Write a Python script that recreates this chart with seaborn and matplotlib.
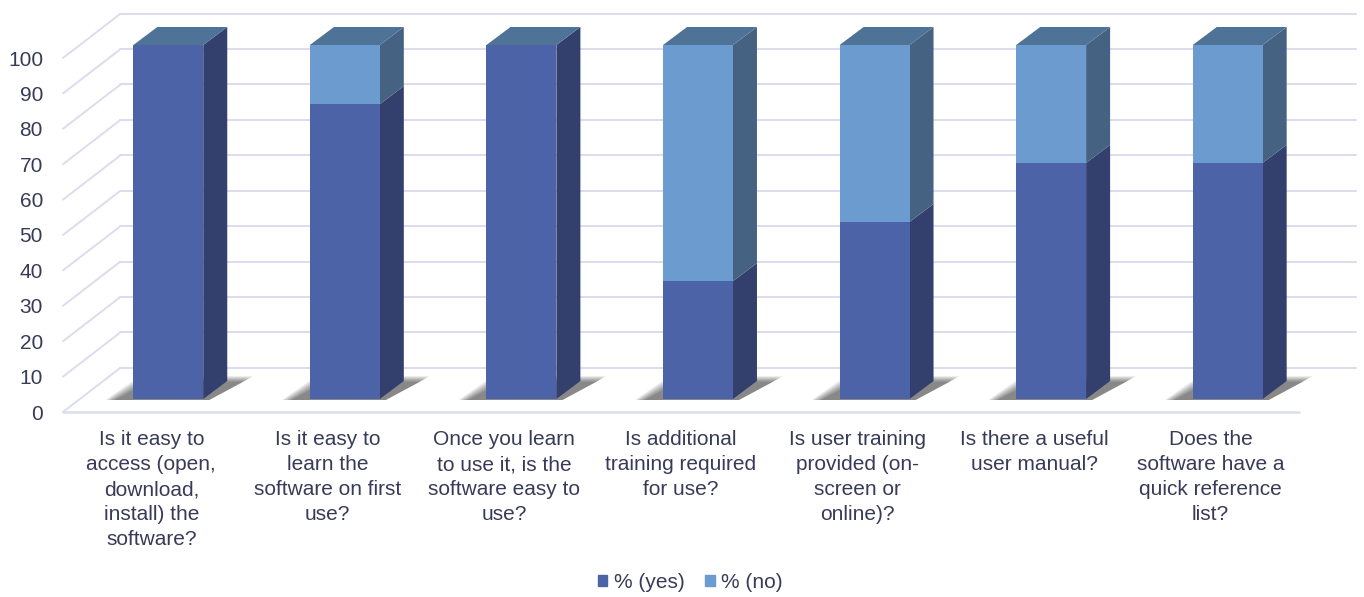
import matplotlib
matplotlib.use("Agg")
import matplotlib.pyplot as plt
import matplotlib.transforms as mtransforms
from matplotlib.patches import Polygon, Patch
import seaborn as sns
import pandas as pd

# survey questions (x categories)
questions = [
    "Is it easy to\naccess (open,\ndownload,\ninstall) the\nsoftware?",
    "Is it easy to\nlearn the\nsoftware on first\nuse?",
    "Once you learn\nto use it, is the\nsoftware easy to\nuse?",
    "Is additional\ntraining required\nfor use?",
    "Is user training\nprovided (on-\nscreen or\nonline)?",
    "Is there a useful\nuser manual?",
    "Does the\nsoftware have a\nquick reference\nlist?",
]
yes_pct = [100, 83.3, 100, 33.3, 50, 66.7, 66.7]
no_pct = [0, 16.7, 0, 66.7, 50, 33.3, 33.3]
y_ticks = list(range(0, 101, 10))
series_names = ["% (yes)", "% (no)"]

# colours
YES_FRONT = "#4d63a7"
YES_SIDE = "#333f6c"
NO_FRONT = "#6c9bcf"
NO_SIDE = "#456282"
TOP = "#4f7397"
GRID = "#dcdcee"
TEXT = "#383b58"

# pseudo-3d offsets in pixels (dx, dy)
DEPTH = (24, 18)       # bar depth
FRONT = (-17, -13)     # front floor edge relative to bar face
BACK = (40.5, 31.3)    # back wall relative to bar face

sns.set_theme(style="white")
plt.rcParams["font.family"] = ["Liberation Sans", "DejaVu Sans"]

df = pd.DataFrame({"question": questions, "yes": yes_pct, "no": no_pct})
df["total"] = df["yes"] + df["no"]

fig = plt.figure(figsize=(13.64, 5.97), dpi=100)
fig.patch.set_facecolor("white")
ax = fig.add_axes([80 / 1364, 1 - 399 / 597, 1236 / 1364, 354 / 597])

n0 = len(ax.patches)
sns.barplot(data=df, x="question", y="total", color=NO_FRONT, saturation=1,
            width=0.396, errorbar=None, linewidth=0, zorder=4, ax=ax)
total_bars = ax.patches[n0:]
n1 = len(ax.patches)
sns.barplot(data=df, x="question", y="yes", color=YES_FRONT, saturation=1,
            width=0.396, errorbar=None, linewidth=0, zorder=4, ax=ax)
yes_bars = ax.patches[n1:]

ax.set_xlim(-0.5, 6.5)
ax.set_ylim(0, 100)
ax.set_xlabel("")
ax.set_ylabel("")
for s in ax.spines.values():
    s.set_visible(False)
ax.patch.set_alpha(0)


def shifted(x, y, d):
    px, py = ax.transData.transform((x, y))
    return tuple(ax.transData.inverted().transform((px + d[0], py + d[1])))


def poly(points, color, z, alpha=1.0):
    ax.add_patch(Polygon(points, closed=True, facecolor=color, edgecolor="none",
                         zorder=z, alpha=alpha, clip_on=False))


# back wall grid + left floor diagonals
x_lo, x_hi = ax.get_xlim()
for t in y_ticks:
    b0 = shifted(x_lo, t, BACK)
    b1 = shifted(x_hi, t, BACK)
    f0 = shifted(x_lo, t, FRONT)
    ax.plot([b0[0], b1[0]], [b0[1], b1[1]], color=GRID, lw=1.4, zorder=0, clip_on=False)
    ax.plot([f0[0], b0[0]], [f0[1], b0[1]], color=GRID, lw=1.4, zorder=0, clip_on=False)
f0 = shifted(x_lo, 0, FRONT)
f1 = shifted(x_hi, 0, FRONT)
ax.plot([f0[0], f1[0]], [f0[1], f1[1]], color=GRID, lw=1.8, zorder=0, clip_on=False)

# shadows, side and top faces from the bar geometry
for tb, yb in zip(total_bars, yes_bars):
    x0 = tb.get_x()
    x1 = x0 + tb.get_width()
    top = tb.get_height()
    yv = yb.get_height()

    # soft floor shadow: stacked translucent parallelograms
    for k in range(8):
        g = 10 - 1.4 * k
        poly([shifted(x0, 0, (-28 + g, -1)), shifted(x1, 0, (6, -1)),
              shifted(x1, 0, (50 - g, 23 - g * 0.6)), shifted(x0, 0, (6 + g, 23 - g * 0.6))],
             "black", 1, alpha=0.075)

    if yv > 0:
        poly([(x1, 0), shifted(x1, 0, DEPTH), shifted(x1, yv, DEPTH), (x1, yv)], YES_SIDE, 3)
    if top - yv > 0:
        poly([(x1, yv), shifted(x1, yv, DEPTH), shifted(x1, top, DEPTH), (x1, top)], NO_SIDE, 3)
    poly([(x0, top), (x1, top), shifted(x1, top, DEPTH), shifted(x0, top, DEPTH)], TOP, 3)

# ticks placed on the front floor edge
ax.set_yticks(y_ticks)
ax.set_yticklabels([str(t) for t in y_ticks])
ax.tick_params(axis="both", length=0, labelsize=15, labelcolor=TEXT)
ax.tick_params(axis="y", pad=14.4)
ax.tick_params(axis="x", pad=13)
shift = mtransforms.ScaledTranslation(FRONT[0] / 100, FRONT[1] / 100, fig.dpi_scale_trans)
for lab in ax.get_xticklabels():
    lab.set_linespacing(1.4)
    lab.set_transform(lab.get_transform() + shift)
for lab in ax.get_yticklabels():
    lab.set_transform(lab.get_transform() + shift)

handles = [Patch(color=YES_FRONT, label=series_names[0]),
           Patch(color=NO_FRONT, label=series_names[1])]
fig.legend(handles=handles, loc="center", bbox_to_anchor=(0.506, 0.024), ncol=2,
           frameon=False, fontsize=15, labelcolor=TEXT, handlelength=0.45,
           handleheight=0.45, handletextpad=0.3, columnspacing=1.0)

fig.savefig("out.png", dpi=100)
